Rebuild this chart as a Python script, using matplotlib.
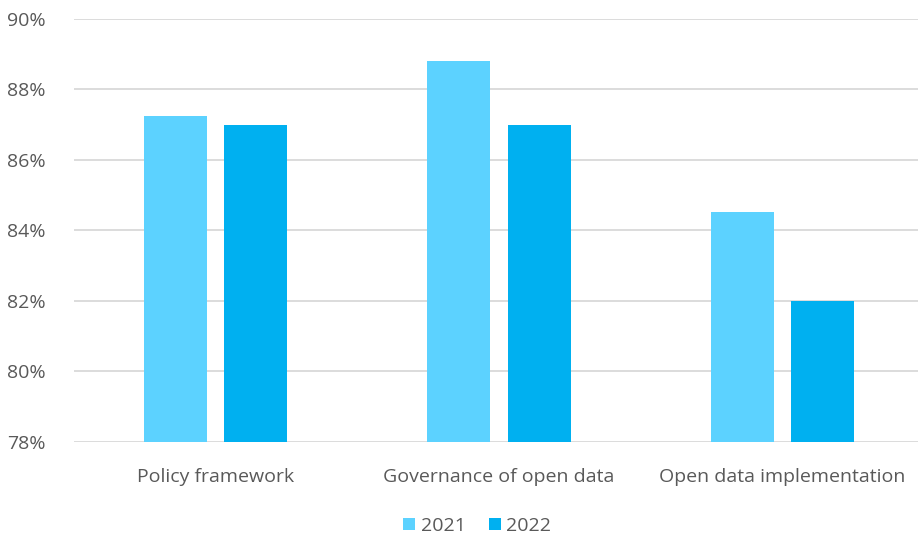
import numpy as np
import matplotlib
matplotlib.use('Agg')
import matplotlib.pyplot as plt
from matplotlib.ticker import FuncFormatter

plt.rcParams['font.family'] = ['Open Sans', 'DejaVu Sans']

categories = ['Policy framework', 'Governance of open data', 'Open data implementation']
years = ['2021', '2022']
v2021 = [87.25, 88.8, 84.53]
v2022 = [87.0, 87.0, 82.0]

c2021 = '#5CD2FF'
c2022 = '#00B0F0'
grey = '#595959'

fig = plt.figure(figsize=(9.18, 5.39), dpi=100)
ax = fig.add_axes([73.75 / 918, 1 - 442 / 539, 850.5 / 918, (442 - 18.7) / 539])

x = np.arange(len(categories))
w = 0.222
off = 0.142
ax.bar(x - off, v2021, w, color=c2021, label=years[0], zorder=3)
ax.bar(x + off, v2022, w, color=c2022, label=years[1], zorder=3)

ax.set_ylim(78, 90)
ax.set_xlim(-0.5, 2.5)
ax.set_yticks(np.arange(78, 91, 2))
ax.yaxis.set_major_formatter(FuncFormatter(lambda v, p: f'{v:.0f}%'))
ax.grid(axis='y', color='#d9d9d9', linewidth=1.3, zorder=0)
for s in ax.spines.values():
    s.set_visible(False)
ax.tick_params(axis='y', length=0, pad=20, labelsize=14, labelcolor=grey)
ax.set_xticks(x)
ax.set_xticklabels(categories)
ax.tick_params(axis='x', length=0, pad=19, labelsize=14, labelcolor=grey)

fig.legend(loc='center', bbox_to_anchor=(0.52, 1 - 526 / 539), ncol=2, frameon=False,
           fontsize=14, labelcolor=grey, handlelength=0.6, handleheight=0.6,
           handletextpad=0.3, columnspacing=1.2)

fig.savefig('out.png', dpi=100)
